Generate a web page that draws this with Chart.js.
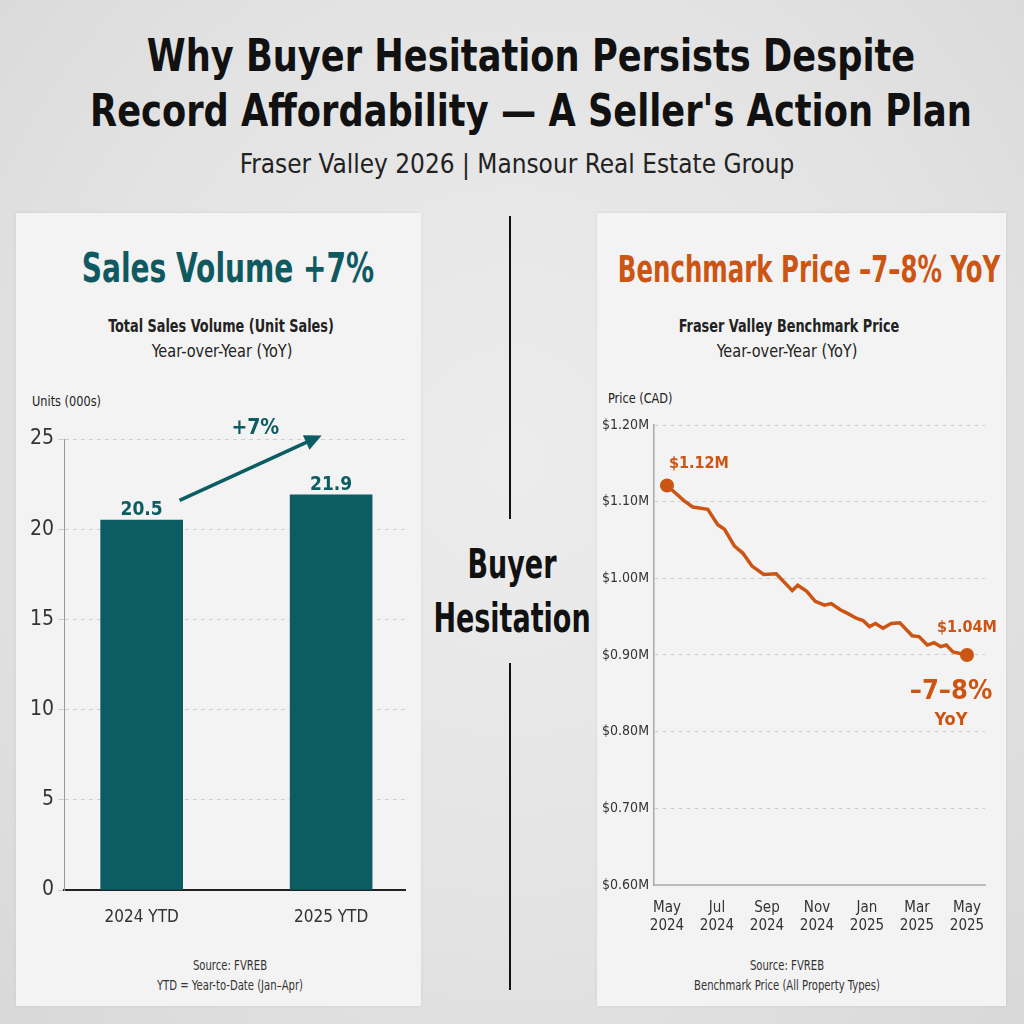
<!DOCTYPE html>
<html>
<head>
<meta charset="utf-8">
<script src="https://cdn.jsdelivr.net/npm/chart.js@4.4.1/dist/chart.umd.min.js"></script>
<style>
  body {
    margin: 0;
    width: 1024px;
    height: 1024px;
    overflow: hidden;
    position: relative;
    background: radial-gradient(ellipse at 50% 45%, #ececec 0%, #e3e3e3 60%, #d8d8d8 100%);
    font-family: 'DejaVu Sans Condensed', 'Liberation Sans Narrow', sans-serif;
    color: #111;
  }
  .abs { position: absolute; white-space: nowrap; }
  .center { text-align: center; transform-origin: 50% 50%; }
  .panel {
    position: absolute;
    top: 213px;
    height: 793px;
    background: #f3f3f3;
    box-shadow: 0 0 3px rgba(0,0,0,0.08);
  }
  .title { font-weight: bold; font-size: 44px; line-height: 55px; top: 28px; left: 531px; transform: translateX(-50%) scaleX(0.89); }
  .subtitle { font-size: 27px; top: 148px; left: 517px; color: #222; transform: translateX(-50%) scaleX(0.96); }
  .ptitle { font-weight: bold; font-size: 40px; top: 245px; transform: translateX(-50%) scaleX(0.78); }
  .psub { font-size: 17px; line-height: 25px; color: #222; }
  .axisname { font-size: 14px; color: #222; transform-origin: 0 50%; transform: scaleX(0.9); }
  .source { font-size: 14px; line-height: 20px; top: 955px; color: #333; transform: translateX(-50%) scaleX(0.8); }
  .divider { position: absolute; left: 509px; width: 2px; background: #111; }
  .middle { font-weight: bold; font-size: 40px; line-height: 54px; top: 537px; left: 512px; transform: translateX(-50%) scaleX(0.75); }
  canvas { position: absolute; }
</style>
</head>
<body>

<div class="abs center title">Why Buyer Hesitation Persists Despite<br>Record Affordability — A Seller's Action Plan</div>
<div class="abs center subtitle">Fraser Valley 2026 | Mansour Real Estate Group</div>

<div class="panel" style="left:16px; width:405px;"></div>
<div class="panel" style="left:597px; width:409px;"></div>

<div class="divider" style="top:216px; height:303px;"></div>
<div class="divider" style="top:663px; height:327px;"></div>
<div class="abs center middle">Buyer<br>Hesitation</div>

<div class="abs center ptitle" style="left:228px; color:#0f5a60;">Sales Volume +7%</div>
<div class="abs center psub" style="left:221px; top:314px; font-weight:bold; transform:translateX(-50%) scaleX(0.84);">Total Sales Volume (Unit Sales)</div>
<div class="abs center psub" style="left:222px; top:339px; transform:translateX(-50%) scaleX(0.95);">Year-over-Year (YoY)</div>
<div class="abs axisname" style="left:32px; top:393px;">Units (000s)</div>
<div class="abs center source" style="left:230px;">Source: FVREB<br>YTD = Year-to-Date (Jan–Apr)</div>

<div class="abs center ptitle" style="left:809px; top:247px; font-size:38px; color:#cc5514; transform:translateX(-50%) scaleX(0.715);">Benchmark Price –7–8% YoY</div>
<div class="abs center psub" style="left:789px; top:314px; font-weight:bold; transform:translateX(-50%) scaleX(0.84);">Fraser Valley Benchmark Price</div>
<div class="abs center psub" style="left:787px; top:339px; transform:translateX(-50%) scaleX(0.95);">Year-over-Year (YoY)</div>
<div class="abs axisname" style="left:608px; top:390px;">Price (CAD)</div>
<div class="abs center source" style="left:787px;">Source: FVREB<br>Benchmark Price (All Property Types)</div>

<canvas id="sales" width="405" height="560" style="left:16px; top:380px;"></canvas>
<canvas id="price" width="409" height="560" style="left:597px; top:380px;"></canvas>

<script>
// data
const salesCategories = ["2024 YTD", "2025 YTD"];
const salesValues = [20.5, 21.9];
const salesTicks = [0, 5, 10, 15, 20, 25];

// months after May 2024 and benchmark price in $M
const priceMonths = [0, 0.69, 1.03, 1.63, 2.03, 2.3, 2.7, 3.03, 3.4, 3.87, 4.37, 5.01, 5.23, 5.59, 5.93,
  6.3, 6.57, 6.93, 7.24, 7.57, 7.84, 8.1, 8.34, 8.64, 8.97, 9.31, 9.81, 10.08, 10.41, 10.68, 10.95,
  11.17, 11.44, 12];
const priceValues = [1.121, 1.101, 1.093, 1.09, 1.07, 1.064, 1.042, 1.033, 1.016, 1.005, 1.006, 0.984,
  0.991, 0.983, 0.97, 0.965, 0.967, 0.959, 0.954, 0.948, 0.945, 0.937, 0.941, 0.935, 0.941, 0.942,
  0.925, 0.924, 0.913, 0.916, 0.911, 0.913, 0.904, 0.9];
const priceTicks = [0.6, 0.7, 0.8, 0.9, 1.0, 1.1, 1.2];
const priceTickMonths = [0, 2, 4, 6, 8, 10, 12];
const priceTickLabels = [["May", "2024"], ["Jul", "2024"], ["Sep", "2024"], ["Nov", "2024"],
  ["Jan", "2025"], ["Mar", "2025"], ["May", "2025"]];
const priceStartLabel = "$1.12M";
const priceEndLabel = "$1.04M";
const priceChangeLabel = "–7–8%";

const TEAL = "#0c5d63";
const ORANGE = "#cc5514";
const FONT = "'DejaVu Sans Condensed', sans-serif";

Chart.defaults.font.family = FONT;
Chart.defaults.color = "#333";
Chart.defaults.animation = false;

const dashedGrid = {
  color: "#cfcfcf",
  lineWidth: 1,
  tickLength: 6,
  tickColor: "#cfcfcf"
};

// arrow, "+7%" and bar value labels
const salesNotes = {
  id: "salesNotes",
  afterDatasetsDraw(chart) {
    const { ctx, scales: { x, y } } = chart;
    ctx.save();
    ctx.fillStyle = TEAL;
    ctx.strokeStyle = TEAL;
    ctx.textAlign = "center";
    ctx.font = "bold 19px " + FONT;
    salesValues.forEach(function (v, i) {
      ctx.fillText(v.toFixed(1), x.getPixelForValue(i), y.getPixelForValue(v) - 5);
    });

    const x0 = x.getPixelForValue(0.2), y0 = y.getPixelForValue(21.6);
    const x1 = x.getPixelForValue(0.95), y1 = y.getPixelForValue(25.2);
    const ang = Math.atan2(y1 - y0, x1 - x0);
    ctx.lineWidth = 3.5;
    ctx.beginPath();
    ctx.moveTo(x0, y0);
    ctx.lineTo(x1 - 12 * Math.cos(ang), y1 - 12 * Math.sin(ang));
    ctx.stroke();
    ctx.beginPath();
    ctx.moveTo(x1, y1);
    ctx.lineTo(x1 - 17 * Math.cos(ang) + 8 * Math.sin(ang), y1 - 17 * Math.sin(ang) - 8 * Math.cos(ang));
    ctx.lineTo(x1 - 17 * Math.cos(ang) - 8 * Math.sin(ang), y1 - 17 * Math.sin(ang) + 8 * Math.cos(ang));
    ctx.closePath();
    ctx.fill();

    ctx.font = "bold 21px " + FONT;
    ctx.fillText("+7%", x.getPixelForValue(0.6), y.getPixelForValue(25.3));
    ctx.restore();
  }
};

new Chart(document.getElementById("sales"), {
  type: "bar",
  data: {
    datasets: [{
      data: salesValues.map(function (v, i) { return { x: i, y: v }; }),
      backgroundColor: TEAL,
      barThickness: 82
    }]
  },
  options: {
    responsive: false,
    devicePixelRatio: 1,
    layout: { padding: { top: 59, right: 16, left: 0, bottom: 0 } },
    plugins: { legend: { display: false }, tooltip: { enabled: false } },
    scales: {
      x: {
        type: "linear",
        offset: false,
        min: -0.41,
        max: 1.39,
        afterBuildTicks: function (s) { s.ticks = salesCategories.map(function (c, i) { return { value: i }; }); },
        afterFit: function (s) { s.height = 50; },
        grid: { display: false },
        border: { color: "#222", width: 2 },
        ticks: {
          font: { size: 17 },
          color: "#333",
          padding: 9,
          callback: function (v) { return salesCategories[Math.round(v)]; }
        }
      },
      y: {
        min: 0,
        max: 25,
        afterBuildTicks: function (s) { s.ticks = salesTicks.map(function (v) { return { value: v }; }); },
        afterFit: function (s) { s.width = 48; },
        grid: dashedGrid,
        border: { color: "#999", width: 1, dash: [4, 4] },
        ticks: { font: { size: 21 }, color: "#333", padding: 4 }
      }
    }
  },
  plugins: [salesNotes]
});

// price labels near the end points
const priceNotes = {
  id: "priceNotes",
  afterDatasetsDraw(chart) {
    const { ctx } = chart;
    const pts = chart.getDatasetMeta(0).data;
    const first = pts[0], last = pts[pts.length - 1];
    ctx.save();
    ctx.fillStyle = ORANGE;
    ctx.textAlign = "center";
    ctx.textBaseline = "middle";
    ctx.font = "bold 16px " + FONT;
    ctx.fillText(priceStartLabel, first.x + 32, first.y - 22);
    ctx.fillText(priceEndLabel, last.x, last.y - 27);
    ctx.font = "bold 27px " + FONT;
    ctx.fillText(priceChangeLabel, last.x - 16, last.y + 37);
    ctx.font = "bold 18px " + FONT;
    ctx.fillText("YoY", last.x - 16, last.y + 65);
    ctx.restore();
  }
};

const radii = priceValues.map(function (v, i) { return (i === 0 || i === priceValues.length - 1) ? 7 : 0; });

new Chart(document.getElementById("price"), {
  type: "line",
  data: {
    datasets: [{
      data: priceValues.map(function (v, i) { return { x: priceMonths[i], y: v }; }),
      borderColor: ORANGE,
      backgroundColor: ORANGE,
      borderWidth: 3.5,
      pointRadius: radii,
      pointBorderWidth: 0,
      tension: 0
    }]
  },
  options: {
    responsive: false,
    devicePixelRatio: 1,
    layout: { padding: { top: 45, right: 21, left: 0, bottom: 0 } },
    plugins: { legend: { display: false }, tooltip: { enabled: false } },
    scales: {
      x: {
        type: "linear",
        min: -0.52,
        max: 12.72,
        afterBuildTicks: function (s) { s.ticks = priceTickMonths.map(function (m) { return { value: m }; }); },
        afterFit: function (s) { s.height = 55; },
        grid: { display: false },
        border: { color: "#bbb", width: 2 },
        ticks: {
          font: { size: 15 },
          color: "#333",
          padding: 6,
          maxRotation: 0,
          callback: function (v) { return priceTickLabels[priceTickMonths.indexOf(v)]; }
        }
      },
      y: {
        min: 0.6,
        max: 1.2,
        afterBuildTicks: function (s) { s.ticks = priceTicks.map(function (v) { return { value: v }; }); },
        afterFit: function (s) { s.width = 57; },
        grid: Object.assign({}, dashedGrid, { drawTicks: false }),
        border: { color: "#aaa", width: 1.5, dash: [4, 4] },
        ticks: {
          font: { size: 14 },
          color: "#333",
          padding: 5,
          callback: function (v) { return "$" + v.toFixed(2) + "M"; }
        }
      }
    }
  },
  plugins: [priceNotes]
});
</script>
</body>
</html>
